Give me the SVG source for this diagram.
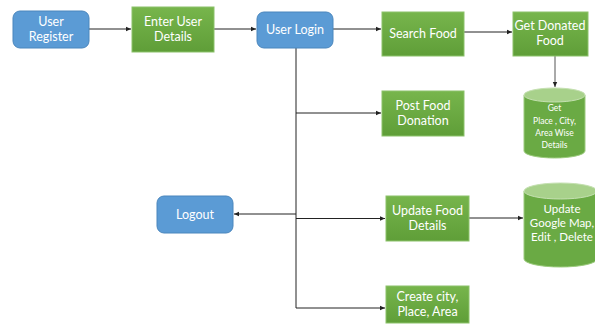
<svg xmlns="http://www.w3.org/2000/svg" width="595" height="333" viewBox="0 0 595 333">
<defs>
<linearGradient id="g" x1="0" y1="0" x2="0" y2="1">
<stop offset="0" stop-color="#77b54c"/>
<stop offset="1" stop-color="#5f9e38"/>
</linearGradient>
<marker id="a" markerWidth="6" markerHeight="6" refX="5" refY="3" orient="auto" markerUnits="userSpaceOnUse">
<path d="M0,0.8 L5,3 L0,5.2 z" fill="#222"/>
</marker>
</defs>
<style>
.b{fill:#5b9bd5;stroke:#4a86bd;stroke-width:1}
.g{fill:url(#g);stroke:#8cc26a;stroke-width:1}
.cy{fill:#6aaa44;stroke:#9ccb7e;stroke-width:1}
.ct{fill:#a8d18b;stroke:#c4e0b0;stroke-width:1}
text{font-family:Lato,"Liberation Sans",sans-serif;fill:#fff;text-anchor:middle;font-size:12.5px}
.s{font-size:8.5px}
.m{font-size:11.5px}
.c{fill:none;stroke:#222;stroke-width:1}
</style>
<g id="connectors">
<line class="c" x1="89" y1="29" x2="131" y2="29" marker-end="url(#a)"/>
<line class="c" x1="214" y1="29" x2="256" y2="29" marker-end="url(#a)"/>
<line class="c" x1="333" y1="29" x2="381" y2="29" marker-end="url(#a)"/>
<line class="c" x1="464" y1="32" x2="512" y2="32" marker-end="url(#a)"/>
<line class="c" x1="555" y1="56" x2="555" y2="87" marker-end="url(#a)" style="stroke:#555"/>
<polyline class="c" points="296,48 296,308 385,308" marker-end="url(#a)"/>
<line class="c" x1="296" y1="113" x2="381" y2="113" marker-end="url(#a)"/>
<line class="c" x1="296" y1="214" x2="234" y2="214" marker-end="url(#a)"/>
<line class="c" x1="296" y1="218.5" x2="385" y2="218.5" marker-end="url(#a)"/>
<line class="c" x1="469" y1="218" x2="523" y2="218" marker-end="url(#a)"/>
</g>
<g id="user-register">
<rect class="b" x="13" y="11" width="76" height="37" rx="7"/>
<text x="51" y="26">User</text>
<text x="51" y="41">Register</text>
</g>
<g id="enter-user-details">
<rect class="g" x="132" y="7" width="82" height="45"/>
<text x="173" y="26">Enter User</text>
<text x="173" y="41">Details</text>
</g>
<g id="user-login">
<rect class="b" x="257" y="12" width="76" height="36" rx="7"/>
<text x="295" y="34">User Login</text>
</g>
<g id="search-food">
<rect class="g" x="382" y="12" width="82" height="44"/>
<text x="423" y="38">Search Food</text>
</g>
<g id="get-donated-food">
<rect class="g" x="513" y="12" width="75" height="44"/>
<text x="550" y="30">Get Donated</text>
<text x="550" y="45">Food</text>
</g>
<g id="get-place-details">
<path class="cy" d="M524,95 L524,151 A30.5,7 0 0 0 585,151 L585,95"/>
<ellipse class="ct" cx="554.5" cy="95" rx="30.5" ry="7"/>
<text class="s" x="554.5" y="111">Get</text>
<text class="s" x="554.5" y="124">Place , City,</text>
<text class="s" x="554.5" y="136">Area Wise</text>
<text class="s" x="554.5" y="148">Details</text>
</g>
<g id="post-food-donation">
<rect class="g" x="382" y="91" width="82" height="45"/>
<text x="423" y="110">Post Food</text>
<text x="423" y="125">Donation</text>
</g>
<g id="logout">
<rect class="b" x="157" y="196" width="76" height="37" rx="7"/>
<text x="195" y="219">Logout</text>
</g>
<g id="update-food-details">
<rect class="g" x="386" y="196" width="83" height="45"/>
<text x="427.5" y="215">Update Food</text>
<text x="427.5" y="230">Details</text>
</g>
<g id="update-google-map">
<path class="cy" d="M524,191 L524,259 A36.5,8 0 0 0 597,259 L597,191"/>
<ellipse class="ct" cx="560.5" cy="191" rx="36.5" ry="8"/>
<text class="m" x="562" y="213">Update</text>
<text class="m" x="562" y="227">Google Map,</text>
<text class="m" x="562" y="241">Edit , Delete</text>
</g>
<g id="create-city">
<rect class="g" x="386" y="286" width="83" height="37"/>
<text x="427.5" y="301">Create city,</text>
<text x="427.5" y="316">Place, Area</text>
</g>
</svg>
